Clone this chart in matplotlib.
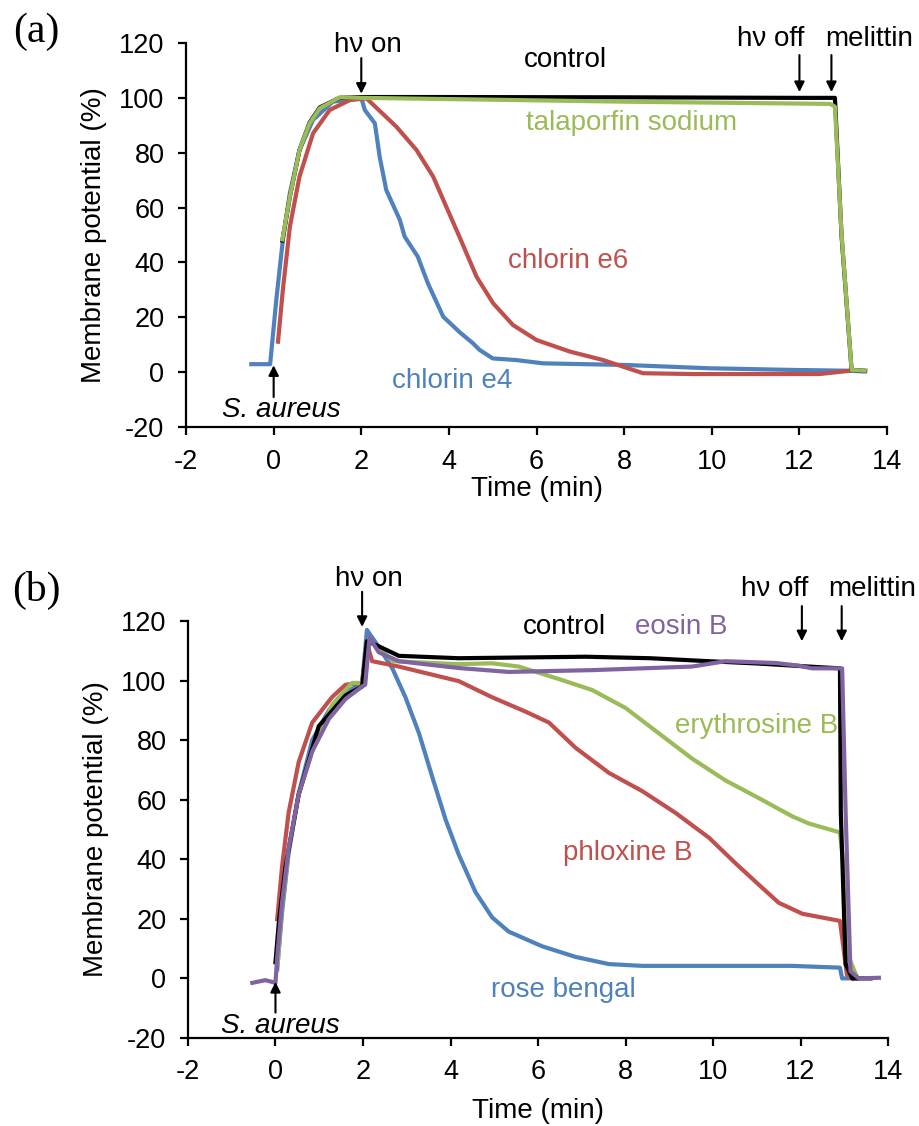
import matplotlib.pyplot as plt

plt.rcParams['font.family'] = ['Liberation Sans', 'DejaVu Sans']

# colours (Excel 2007 palette)
BLACK = "#000000"
BLUE = "#4F81BD"
RED = "#C0504D"
GREEN = "#9BBB59"
PURPLE = "#8064A2"

# ---- panel (a) data ----
a_ctrl_t = [0.2, 0.37, 0.59, 0.82, 1.05, 1.5, 2.0, 4.0, 8.0, 12.0, 12.81, 12.96, 13.19, 13.5]
a_ctrl_v = [48, 64, 81, 91, 96.5, 100, 100.3, 100.3, 100.2, 100, 100, 50, 0.8, 0.5]

a_tala_t = [0.2, 0.37, 0.59, 0.82, 1.05, 1.51, 2.0, 4.25, 8.05, 12.7, 12.81, 12.96, 13.19, 13.49]
a_tala_v = [48.4, 64, 81, 90.7, 96.2, 100.2, 100, 99.5, 98.6, 97.8, 96.8, 50.6, 0.8, 0.5]

a_e4_t = [-0.51, -0.08, 0.06, 0.21, 0.37, 0.59, 0.9, 1.35, 2.0, 2.08, 2.31, 2.42, 2.57, 2.88,
          2.99, 3.29, 3.52, 3.87, 4.25, 4.55, 4.70, 5.0, 5.54, 6.15, 8.05, 9.95, 11.86, 13.15, 13.49]
a_e4_v = [2.9, 2.9, 26.3, 48.2, 65.2, 81, 92, 98.6, 100, 95.6, 90.7, 78.5, 66.4, 55.5,
          49.4, 42.1, 32.4, 20.2, 14.5, 10.5, 8.1, 5, 4.4, 3.2, 2.6, 1.4, 0.8, 0.5, 0.2]

a_e6_t = [0.10, 0.21, 0.37, 0.59, 0.90, 1.28, 1.74, 2.12, 2.80, 3.26, 3.64, 3.94, 4.25, 4.63,
          5.01, 5.46, 6.0, 6.76, 7.52, 7.97, 8.43, 9.57, 12.46, 13.15]
a_e6_v = [11.1, 30, 53, 71.3, 87.1, 95.6, 99.2, 99.8, 89.5, 81, 71.3, 60.3, 49, 34.8,
          25.1, 17.2, 11.7, 7.5, 4.4, 2.0, -0.4, -0.7, -0.7, 0.5]

# ---- panel (b) data ----
b_ctrl_t = [0, 0.08, 0.23, 0.53, 0.99, 1.6, 1.98, 2.09, 2.29, 2.82, 4.19, 7.09, 8.56, 9.9,
            11.05, 12.19, 12.9, 12.92, 13.03, 13.18, 13.6]
b_ctrl_v = [5.4, 19.3, 37.5, 61.7, 84.7, 95, 98, 113.2, 112, 108.3, 107.5, 108, 107.5, 106.5,
            105.7, 104.7, 104.1, 55.6, 4.8, 0, 0]

b_eosin_t = [-0.53, -0.23, 0, 0.04, 0.15, 0.30, 0.53, 0.84, 1.22, 1.60, 1.98, 2.05, 2.15, 2.36,
             2.82, 4.19, 5.33, 7.24, 9.52, 10.29, 11.43, 11.96, 12.26, 12.95, 13.03, 13.14, 13.33, 13.79]
b_eosin_v = [-1.5, -0.6, -1.5, 7.2, 25.4, 43.6, 61.7, 76.2, 87.1, 93.8, 98, 98.6, 114.4, 109.5,
             106.5, 104.2, 102.9, 103.5, 104.7, 106.5, 105.9, 105, 104.1, 104.1, 55.6, 2.4, 0, 0.2]

b_eryth_t = [0.05, 0.15, 0.30, 0.53, 0.90, 1.3, 1.75, 1.98, 2.13, 2.69, 4.19, 4.95, 5.56, 6.48,
             7.24, 8.0, 8.76, 9.52, 10.28, 11.05, 11.81, 12.19, 12.9, 13.03, 13.1, 13.3]
b_eryth_v = [5, 24, 43, 62, 79, 92, 99.2, 99.2, 113.8, 106.5, 105.5, 105.8, 104.7, 100.5,
             96.8, 90.8, 82.3, 73.8, 66.5, 60.5, 54.4, 52, 49, 31.4, 7.2, 0]

b_phlox_t = [0.04, 0.15, 0.30, 0.53, 0.84, 1.29, 1.60, 1.98, 2.09, 2.21, 2.82, 4.19, 4.95, 5.71,
             6.25, 6.86, 7.62, 8.38, 9.14, 9.91, 10.51, 11.05, 11.5, 12.04, 12.9, 13.06, 13.2]
b_phlox_v = [19.9, 37.5, 55.6, 72.6, 85.9, 94.4, 98.6, 99.2, 112.6, 106.5, 104.7, 99.8, 94.4, 89.6,
             85.9, 77.4, 69, 62.9, 55.6, 47.2, 38.7, 31.4, 25.4, 21.7, 19.3, 1.2, 0]

b_rose_t = [0.04, 0.15, 0.30, 0.53, 0.84, 1.22, 1.60, 1.98, 2.09, 2.36, 2.67, 2.97, 3.28, 3.58,
            3.89, 4.19, 4.57, 4.95, 5.33, 6.09, 6.86, 7.62, 8.38, 10.28, 11.81, 12.9, 12.95, 13.3]
b_rose_v = [3, 22, 42, 62, 80, 90, 96, 99, 117, 111.3, 104.1, 94.4, 82.3, 67.8,
            53.2, 41.5, 29, 20.5, 15.7, 10.8, 7.2, 4.8, 4.2, 4.2, 4.2, 3.6, 0, 0]

xticks = [-2, 0, 2, 4, 6, 8, 10, 12, 14]
yticks = [-20, 0, 20, 40, 60, 80, 100, 120]

LW = 3.0
FS = 20

fig = plt.figure(figsize=(9.2, 11.26), dpi=100)
ax1 = fig.add_axes([0.2022, 0.6208, 0.762, 0.341])
ax2 = fig.add_axes([0.2043, 0.0782, 0.761, 0.3703])


def style_axes(ax, xpad):
    ax.set_xlim(-2, 14)
    ax.set_ylim(-20, 120)
    ax.set_xticks(xticks)
    ax.set_yticks(yticks)
    ax.set_xticklabels([str(t) for t in xticks])
    ax.set_yticklabels([str(t) for t in yticks])
    for s in ["top", "right"]:
        ax.spines[s].set_visible(False)
    for s in ["left", "bottom"]:
        ax.spines[s].set_linewidth(1.6)
    ax.tick_params(direction="out", length=5.5, width=1.6, labelsize=19.5, pad=10)
    ax.set_xlabel("Time (min)", fontsize=FS, labelpad=xpad)
    ax.set_ylabel("Membrane potential (%)", fontsize=FS, labelpad=9)


def arrow(ax, x, tail, tip):
    ax.annotate("", xy=(x, tip), xytext=(x, tail), annotation_clip=False,
                arrowprops=dict(arrowstyle="-|>", color="black", lw=1.5,
                                mutation_scale=15, shrinkA=0, shrinkB=0))


# ---- panel (a) ----
ax1.plot(a_e4_t, a_e4_v, color=BLUE, lw=LW)
ax1.plot(a_e6_t, a_e6_v, color=RED, lw=LW)
ax1.plot(a_ctrl_t, a_ctrl_v, color=BLACK, lw=LW)
ax1.plot(a_tala_t, a_tala_v, color=GREEN, lw=LW)
style_axes(ax1, 1)

ax1.text(2.15, 116.8, "hν on", fontsize=FS, ha="center", va="baseline")
ax1.text(11.35, 119, "hν off", fontsize=FS, ha="center", va="baseline")
ax1.text(13.58, 119, "melittin", fontsize=FS, ha="center", va="baseline")
ax1.text(6.67, 111.4, "control", fontsize=FS, ha="center", va="baseline")
ax1.text(8.18, 88.3, "talaporfin sodium", fontsize=FS, ha="center", va="baseline", color=GREEN)
ax1.text(6.71, 37.9, "chlorin e6", fontsize=FS, ha="center", va="baseline", color=RED)
ax1.text(4.07, -5.9, "chlorin e4", fontsize=FS, ha="center", va="baseline", color=BLUE)
ax1.text(0.18, -16.5, "S. aureus", fontsize=FS, ha="center", va="baseline", style="italic")
arrow(ax1, 2.0, 114.5, 101.5)
arrow(ax1, 12.0, 115.6, 102.1)
arrow(ax1, 12.73, 115.6, 102.1)
arrow(ax1, 0.0, -9.1, 2.5)

# ---- panel (b) ----
ax2.plot(b_rose_t, b_rose_v, color=BLUE, lw=LW)
ax2.plot(b_phlox_t, b_phlox_v, color=RED, lw=LW)
ax2.plot(b_eryth_t, b_eryth_v, color=GREEN, lw=LW)
ax2.plot(b_ctrl_t, b_ctrl_v, color=BLACK, lw=LW)
ax2.plot(b_eosin_t, b_eosin_v, color=PURPLE, lw=LW)
style_axes(ax2, 9)

ax2.text(2.13, 131.7, "hν on", fontsize=FS, ha="center", va="baseline")
ax2.text(11.41, 128.3, "hν off", fontsize=FS, ha="center", va="baseline")
ax2.text(13.63, 128.3, "melittin", fontsize=FS, ha="center", va="baseline")
ax2.text(6.6, 115.6, "control", fontsize=FS, ha="center", va="baseline")
ax2.text(9.27, 115.6, "eosin B", fontsize=FS, ha="center", va="baseline", color=PURPLE)
ax2.text(11.0, 82.5, "erythrosine B", fontsize=FS, ha="center", va="baseline", color=GREEN)
ax2.text(8.06, 39.7, "phloxine B", fontsize=FS, ha="center", va="baseline", color=RED)
ax2.text(6.57, -6.1, "rose bengal", fontsize=FS, ha="center", va="baseline", color=BLUE)
ax2.text(0.11, -18.2, "S. aureus", fontsize=FS, ha="center", va="baseline", style="italic")
arrow(ax2, 1.98, 129.8, 118)
arrow(ax2, 12.03, 125, 113.2)
arrow(ax2, 12.94, 125, 113.2)
arrow(ax2, 0.0, -11.5, -1.2)

# panel letters
fig.text(0.040, 0.9716, "(a)", fontsize=30, family="Liberation Serif", ha="center", va="center")
fig.text(0.040, 0.4754, "(b)", fontsize=30, family="Liberation Serif", ha="center", va="center")

plt.savefig("out.png", dpi=100)
